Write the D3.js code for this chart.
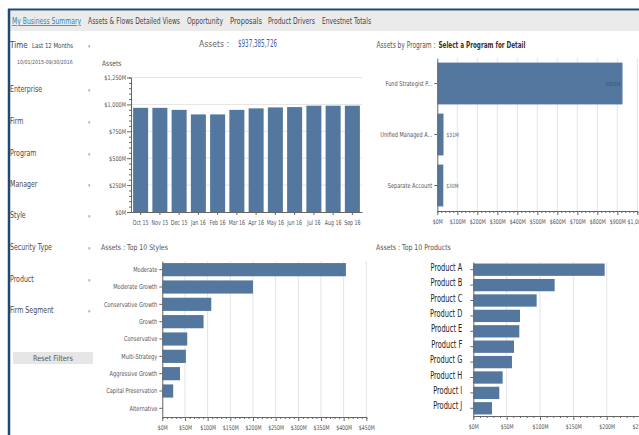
<!DOCTYPE html>
<html><head><meta charset="utf-8">
<script src="https://cdn.jsdelivr.net/npm/d3@7"></script>
<style>
body{margin:0;background:#fff;}
svg{display:block;font-family:"DejaVu Sans Condensed","Liberation Sans Narrow","Arial Narrow",sans-serif;}
</style></head><body>
<svg id="c" width="639" height="435"></svg>
<script>
const navItems = ["My Business Summary","Assets & Flows Detailed Views","Opportunity","Proposals","Product Drivers","Envestnet Totals"];
const filters = ["Enterprise","Firm","Program","Manager","Style","Security Type","Product","Firm Segment"];
const months = ["Oct 15","Nov 15","Dec 15","Jan 16","Feb 16","Mar 16","Apr 16","May 16","Jun 16","Jul 16","Aug 16","Sep 16"];
const monthlyAssets = [968,968,949,907,907,949,963,972,975,988,988,988];
const assetTicks = [0,250,500,750,1000,1250];
const programs = ["Fund Strategist P...","Unified Managed A...","Separate Account"];
const programAssets = [926,31,30];
const programTicks = [0,100,200,300,400,500,600,700,800,900,1000];
const styles = ["Moderate","Moderate Growth","Conservative Growth","Growth","Conservative","Multi-Strategy","Aggressive Growth","Capital Preservation","Alternative"];
const styleAssets = [405,200,108,91,55,52,39,24,0.3];
const styleTicks = [0,50,100,150,200,250,300,350,400,450];
const products = ["Product A","Product B","Product C","Product D","Product E","Product F","Product G","Product H","Product I","Product J"];
const productAssets = [197,122,95,70,69,61,58,44,39,28];
const productTicks = [0,50,100,150,200,250];

const BAR = "#53779e", GRID = "#e4e4e4", AX = "#666";
const svg = d3.select("#c");
const fmtM = d => "$" + d3.format(",")(d) + "M";
function squeeze(sel, r){
  sel.each(function(){
    const L = this.getComputedTextLength();
    if (L > 0){ this.setAttribute("textLength", (L*r).toFixed(2)); this.setAttribute("lengthAdjust","spacingAndGlyphs"); }
  });
  return sel;
}
function fitText(x, y, size, color, w, t, weight){
  return svg.append("text").attr("x",x).attr("y",y).attr("font-size",size).attr("fill",color)
    .attr("font-weight",weight||null).attr("textLength",w).attr("lengthAdjust","spacingAndGlyphs").text(t);
}

// frame & nav
svg.append("rect").attr("x",10).attr("y",11).attr("width",629).attr("height",20).attr("fill","#ebebeb");
svg.append("line").attr("x1",8).attr("x2",639).attr("y1",9.5).attr("y2",9.5).attr("stroke","#1d4a73").attr("stroke-width",2);
svg.append("line").attr("x1",9).attr("x2",9).attr("y1",9).attr("y2",435).attr("stroke","#1d4a73").attr("stroke-width",2.5);
const navX = [12,88,187,230,268,322];
const navW = [69,92,36,32,47,49];
navItems.forEach((t,i)=>{
  fitText(navX[i], 24, 8.2, i===0 ? "#2c86b5" : "#444", navW[i], t)
    .attr("text-decoration", i===0?"underline":null);
});

// sidebar
const side = svg.append("g");
side.append("text").attr("x",10).attr("y",48).attr("font-size",8).attr("fill","#444").text("Time");
side.append("text").attr("x",32).attr("y",48).attr("font-size",6.8).attr("fill","#444").attr("class","sq88").text("Last 12 Months");
side.append("text").attr("x",17).attr("y",64).attr("font-size",5.6).attr("fill","#555").attr("class","sq93").text("10/01/2015-09/30/2016");
const arrow = y => svg.append("text").attr("x",88).attr("y",y).attr("font-size",5).attr("fill","#999").text("▾");
arrow(48);
const filterY = [92,124,156,187,218,250,282,313];
filters.forEach((f,i)=>{
  side.append("text").attr("x",10).attr("y",filterY[i]).attr("font-size",8.2).attr("fill","#4a4a4a").attr("class","sq85").text(f);
  arrow(filterY[i]);
});
svg.append("rect").attr("x",13).attr("y",352).attr("width",80).attr("height",12).attr("fill","#e6e6e6");
svg.append("text").attr("x",53).attr("y",361).attr("text-anchor","middle").attr("font-size",7.8).attr("fill","#555").attr("class","sq93").text("Reset Filters");

// headings
fitText(199, 47, 9.5, "#666", 30, "Assets :");
fitText(238, 47, 11, "#3d5fa6", 39, "$937,385,726");
fitText(376.5, 48, 8, "#555", 59, "Assets by Program :");
fitText(438.5, 48, 8, "#333", 87, "Select a Program for Detail", "bold");
svg.append("text").attr("x",102).attr("y",66).attr("font-size",7.5).attr("fill","#555").attr("class","sq88").text("Assets");
svg.append("text").attr("x",101).attr("y",250).attr("font-size",7.8).attr("fill","#555").attr("class","sq88").text("Assets : Top 10 Styles");
svg.append("text").attr("x",376).attr("y",250).attr("font-size",7.8).attr("fill","#555").attr("class","sq88").text("Assets : Top 10 Products");

function styleAxis(g, fs){
  g.selectAll(".domain").attr("stroke",AX);
  g.selectAll(".tick line").attr("stroke",AX);
  g.selectAll(".tick text").attr("font-size",fs).attr("fill","#555");
  g.attr("font-family",null);
}

// ---- Assets vertical bar chart
{
  const x = d3.scaleBand().domain(months).range([131,362]).paddingInner(0.22).paddingOuter(0.11);
  const y = d3.scaleLinear().domain([0,1250]).range([212,77.5]);
  svg.append("g").selectAll("line").data(assetTicks.slice(1)).join("line")
    .attr("x1",131).attr("x2",362).attr("y1",d=>y(d)).attr("y2",d=>y(d)).attr("stroke",GRID);
  svg.append("g").selectAll("rect").data(months).join("rect")
    .attr("x",d=>x(d)).attr("width",x.bandwidth()).attr("y",(d,i)=>y(monthlyAssets[i]))
    .attr("height",(d,i)=>y(0)-y(monthlyAssets[i])).attr("fill",BAR);
  const gy = svg.append("g").attr("transform","translate(131,0)")
    .call(d3.axisLeft(y).tickValues(d3.range(0,1251,50)).tickSize(2).tickFormat(d=>assetTicks.includes(d)?fmtM(d):"").tickPadding(3));
  gy.selectAll(".tick").filter(d=>assetTicks.includes(d)).select("line").attr("x2",-4);
  styleAxis(gy,6.5);
  squeeze(gy.selectAll(".tick text"),0.85);
  const gx = svg.append("g").attr("transform","translate(0,212)")
    .call(d3.axisBottom(x).tickSize(3).tickPadding(5).tickSizeOuter(0));
  styleAxis(gx,7);
  squeeze(gx.selectAll(".tick text"),0.75);
}

// horizontal bar chart helper
function hbar(cats, vals, ticks, minorStep, x0, x1, y0, y1, pad, labelSize, labelColor, labelSq, valueLabels){
  const x = d3.scaleLinear().domain([0, ticks[ticks.length-1]]).range([x0,x1]);
  const y = d3.scaleBand().domain(cats).range([y0,y1]).paddingInner(pad).paddingOuter(pad/2);
  svg.append("g").selectAll("line").data(ticks.slice(1)).join("line")
    .attr("x1",d=>x(d)).attr("x2",d=>x(d)).attr("y1",y0).attr("y2",y1).attr("stroke",GRID);
  svg.append("g").selectAll("rect").data(cats).join("rect")
    .attr("x",x0).attr("y",d=>y(d)).attr("height",y.bandwidth())
    .attr("width",(d,i)=>x(vals[i])-x0).attr("fill",BAR);
  if(valueLabels){
    const vl = svg.append("g").selectAll("text").data(cats).join("text")
      .attr("x",(d,i)=> vals[i] > 500 ? x(vals[i]) - 2 : x(vals[i]) + 3)
      .attr("text-anchor",(d,i)=> vals[i] > 500 ? "end" : "start")
      .attr("y",d=>y(d)+y.bandwidth()/2+2).attr("font-size",5.8)
      .attr("fill",(d,i)=> vals[i] > 500 ? "#3e5a7a" : "#666")
      .text((d,i)=>fmtM(vals[i]));
    squeeze(vl,0.85);
  }
  const gy = svg.append("g").attr("transform",`translate(${x0},0)`)
    .call(d3.axisLeft(y).tickSize(3).tickPadding(2).tickSizeOuter(0));
  styleAxis(gy,labelSize);
  gy.selectAll(".tick text").attr("fill",labelColor);
  squeeze(gy.selectAll(".tick text"),labelSq);
  const maxV = ticks[ticks.length-1];
  const gx = svg.append("g").attr("transform",`translate(0,${y1})`)
    .call(d3.axisBottom(x).tickValues(d3.range(0,maxV+0.001,minorStep)).tickSize(2).tickPadding(6)
      .tickFormat(d=>ticks.includes(d)?fmtM(d):""));
  gx.selectAll(".tick").filter(d=>ticks.includes(d)).select("line").attr("y2",4);
  styleAxis(gx,6.5);
  squeeze(gx.selectAll(".tick text"),0.8);
  return {x,y,gy};
}

hbar(programs, programAssets, programTicks, 20, 437.3, 637.3, 58, 211, 0.18, 6.8, "#555", 0.82, true);
hbar(styles, styleAssets, styleTicks, 10, 162.3, 366.3, 261, 417, 0.24, 6.8, "#555", 0.83, false);
const pr = hbar(products, productAssets, productTicks, 10, 473.3, 640, 262, 416, 0.2, 10.5, "#222", 0.7, false);
pr.gy.selectAll(".tick text").attr("dy","0.1em").attr("dx",-6);

// narrow-font emulation
[["sq85",0.85],["sq88",0.88],["sq93",0.93]].forEach(([c,r])=>squeeze(svg.selectAll("."+c),r));
</script>
</body></html>
